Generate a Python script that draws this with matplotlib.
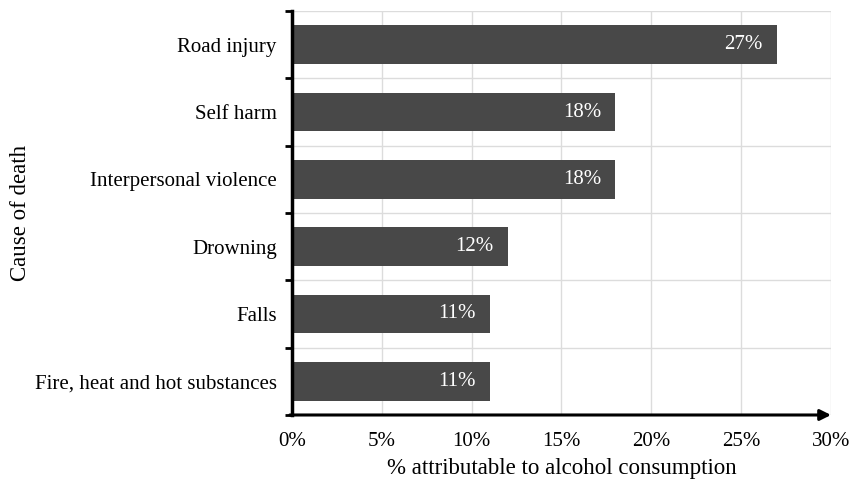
import matplotlib.pyplot as plt
import numpy as np

# data
causes = ["Road injury", "Self harm", "Interpersonal violence",
          "Drowning", "Falls", "Fire, heat and hot substances"]
pct = [27, 18, 18, 12, 11, 11]
xticks = [0, 5, 10, 15, 20, 25, 30]

plt.rcParams['font.family'] = ['Liberation Serif', 'DejaVu Serif']

fig = plt.figure(figsize=(8.51, 4.83), dpi=100)
ax = fig.add_axes([0.3431, 0.1408, 0.9765 - 0.3431, 0.9772 - 0.1408])

y = np.arange(len(causes))
ax.barh(y, pct, height=0.57, color='#484848', zorder=3)

for yi, v in zip(y, pct):
    ax.text(v - 0.8, yi, f"{v}%", color='white', ha='right', va='center',
            fontsize=15, zorder=4)

ax.set_xlim(0, 30)
ax.set_ylim(len(causes) - 0.5, -0.5)

ax.set_xticks(xticks)
ax.set_xticklabels([f"{t}%" for t in xticks], fontsize=15)
ax.set_yticks(y)
ax.set_yticklabels(causes, fontsize=15)
ax.set_yticks(np.arange(-0.5, len(causes)), minor=True)

ax.tick_params(axis='y', which='major', length=0, pad=11)
ax.tick_params(axis='y', which='minor', length=5, width=2, direction='out')
ax.tick_params(axis='x', length=0, pad=12)

ax.grid(axis='x', color='#dcdcdc', lw=1, zorder=0)
ax.grid(axis='y', which='minor', color='#dcdcdc', lw=1, zorder=0)

for s in ['top', 'right', 'bottom']:
    ax.spines[s].set_visible(False)
ax.spines['left'].set_linewidth(2.5)
ax.spines['left'].set_zorder(5)

# x axis with arrow head
ax.annotate('', xy=(1.0, 0), xytext=(-0.004, 0), xycoords='axes fraction',
            arrowprops=dict(arrowstyle='-|>', lw=2.2, color='black',
                            mutation_scale=16, shrinkA=0, shrinkB=0),
            annotation_clip=False, zorder=6)

ax.set_xlabel("% attributable to alcohol consumption", fontsize=16.5, labelpad=5)
ax.set_ylabel("Cause of death", fontsize=16.5, labelpad=3)

fig.savefig("out.png", dpi=100)
